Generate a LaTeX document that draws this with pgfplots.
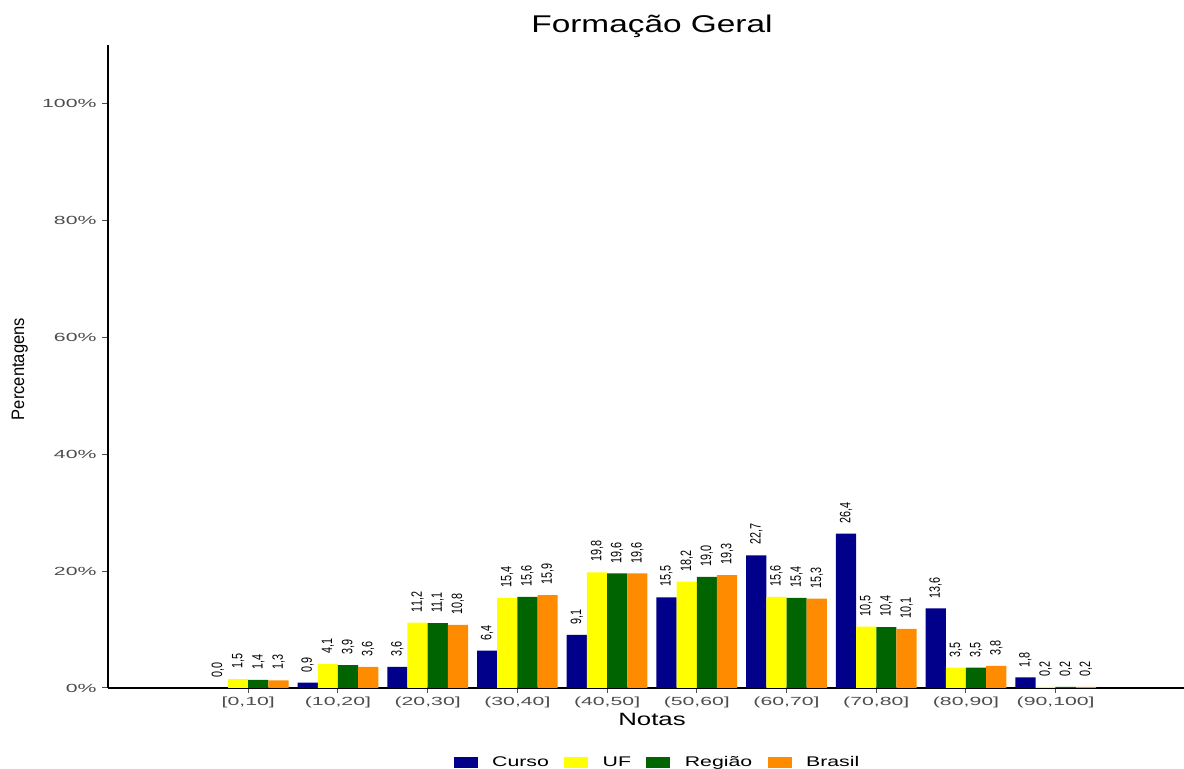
\documentclass[border=0pt]{standalone}
\usepackage{pgfplots}
\pgfplotsset{compat=1.18}
\usepackage{fontspec}
\setmainfont{Liberation Sans}
\newfontfamily\widefont[FakeStretch=1.45]{Liberation Sans}
\newfontfamily\titlefont[FakeStretch=1.38]{Liberation Sans}
\newfontfamily\tickfont[FakeStretch=1.8]{Liberation Sans}
\newfontfamily\legfont[FakeStretch=1.52]{Liberation Sans}
\newfontfamily\valfont[FakeStretch=0.72]{Liberation Sans}
\newfontfamily\ylabfont[FakeStretch=0.92]{Liberation Sans}
\definecolor{curso}{HTML}{00008B}
\definecolor{uf}{HTML}{FFFF00}
\definecolor{regiao}{HTML}{006400}
\definecolor{brasil}{HTML}{FF8C00}
\definecolor{tickgray}{HTML}{4D4D4D}

\pgfplotstableread{
x curso uf regiao brasil
0 0.0 1.5 1.4 1.3
1 0.9 4.1 3.9 3.6
2 3.6 11.2 11.1 10.8
3 6.4 15.4 15.6 15.9
4 9.1 19.8 19.6 19.6
5 15.5 18.2 19.0 19.3
6 22.7 15.6 15.4 15.3
7 26.4 10.5 10.4 10.1
8 13.6 3.5 3.5 3.8
9 1.8 0.2 0.2 0.2
}\datatable

\begin{document}
\begin{tikzpicture}
\begin{axis}[
  at={(0,0)}, anchor=south west, scale only axis,
  width=544pt, height=321.5pt,
  xmin=-1.563, xmax=10.564, ymin=0, ymax=110,
  axis x line*=bottom, axis y line*=left,
  axis line style={line width=0.9pt, black},
  ybar=0pt, bar width=10.09pt,
  legend image code/.code={\fill[#1] (0pt,-2.75pt) rectangle (12pt,2.75pt);},
  xtick={0,...,9},
  xticklabels={{[0,10]},{(10,20]},{(20,30]},{(30,40]},{(40,50]},{(50,60]},{(60,70]},{(70,80]},{(80,90]},{(90,100]}},
  ytick={0,20,40,60,80,100},
  yticklabels={0\%,20\%,40\%,60\%,80\%,100\%},
  tick align=outside,
  major tick length=2.75pt,
  tick style={tickgray, line width=0.5pt},
  xticklabel style={font=\tickfont\fontsize{5.9}{7}\selectfont, text=tickgray, anchor=base, inner sep=0pt, yshift=-5.9pt},
  yticklabel style={font=\tickfont\fontsize{5.9}{7}\selectfont, text=tickgray, anchor=east, inner sep=0pt, xshift=-2.8pt},
  title={Formação Geral},
  title style={font=\titlefont\fontsize{12.1}{14}\selectfont, at={(0.5,1)}, anchor=base, yshift=0.2pt, inner sep=0pt},
  xlabel={Notas},
  xlabel style={font=\widefont\fontsize{8.9}{10}\selectfont, at={(0.5,0)}, anchor=base, yshift=-18.85pt, inner sep=0pt},
  ylabel={Percentagens},
  ylabel style={font=\ylabfont\fontsize{9}{10}\selectfont, at={(-0.0772,0.496)}, anchor=base, inner sep=0pt},
  nodes near coords,
  nodes near coords style={font=\valfont\fontsize{7.5}{8}\selectfont, rotate=90, anchor=west, inner xsep=5pt, inner ysep=0pt, text=black},
  /pgf/number format/fixed,
  /pgf/number format/fixed zerofill,
  /pgf/number format/precision=1,
  /pgf/number format/use comma,
  /pgf/number format/assume math mode=true,
  legend style={draw=none, fill=none, at={(0.506,-0.1166)}, anchor=center, legend columns=4,
    font=\legfont\fontsize{7}{8}\selectfont,
    /tikz/every odd column/.append style={column sep=5.2pt},
    /tikz/every even column/.append style={column sep=5.7pt}},
  legend cell align=left,
]
\addplot[draw=none, fill=curso] table[x=x, y=curso] {\datatable};
\addplot[draw=none, fill=uf] table[x=x, y=uf] {\datatable};
\addplot[draw=none, fill=regiao] table[x=x, y=regiao] {\datatable};
\addplot[draw=none, fill=brasil] table[x=x, y=brasil] {\datatable};
\legend{Curso, UF, Região, Brasil}
\end{axis}
\pgfresetboundingbox
\useasboundingbox (-54pt,-40.5pt) rectangle (538pt,344pt);
\end{tikzpicture}
\end{document}
